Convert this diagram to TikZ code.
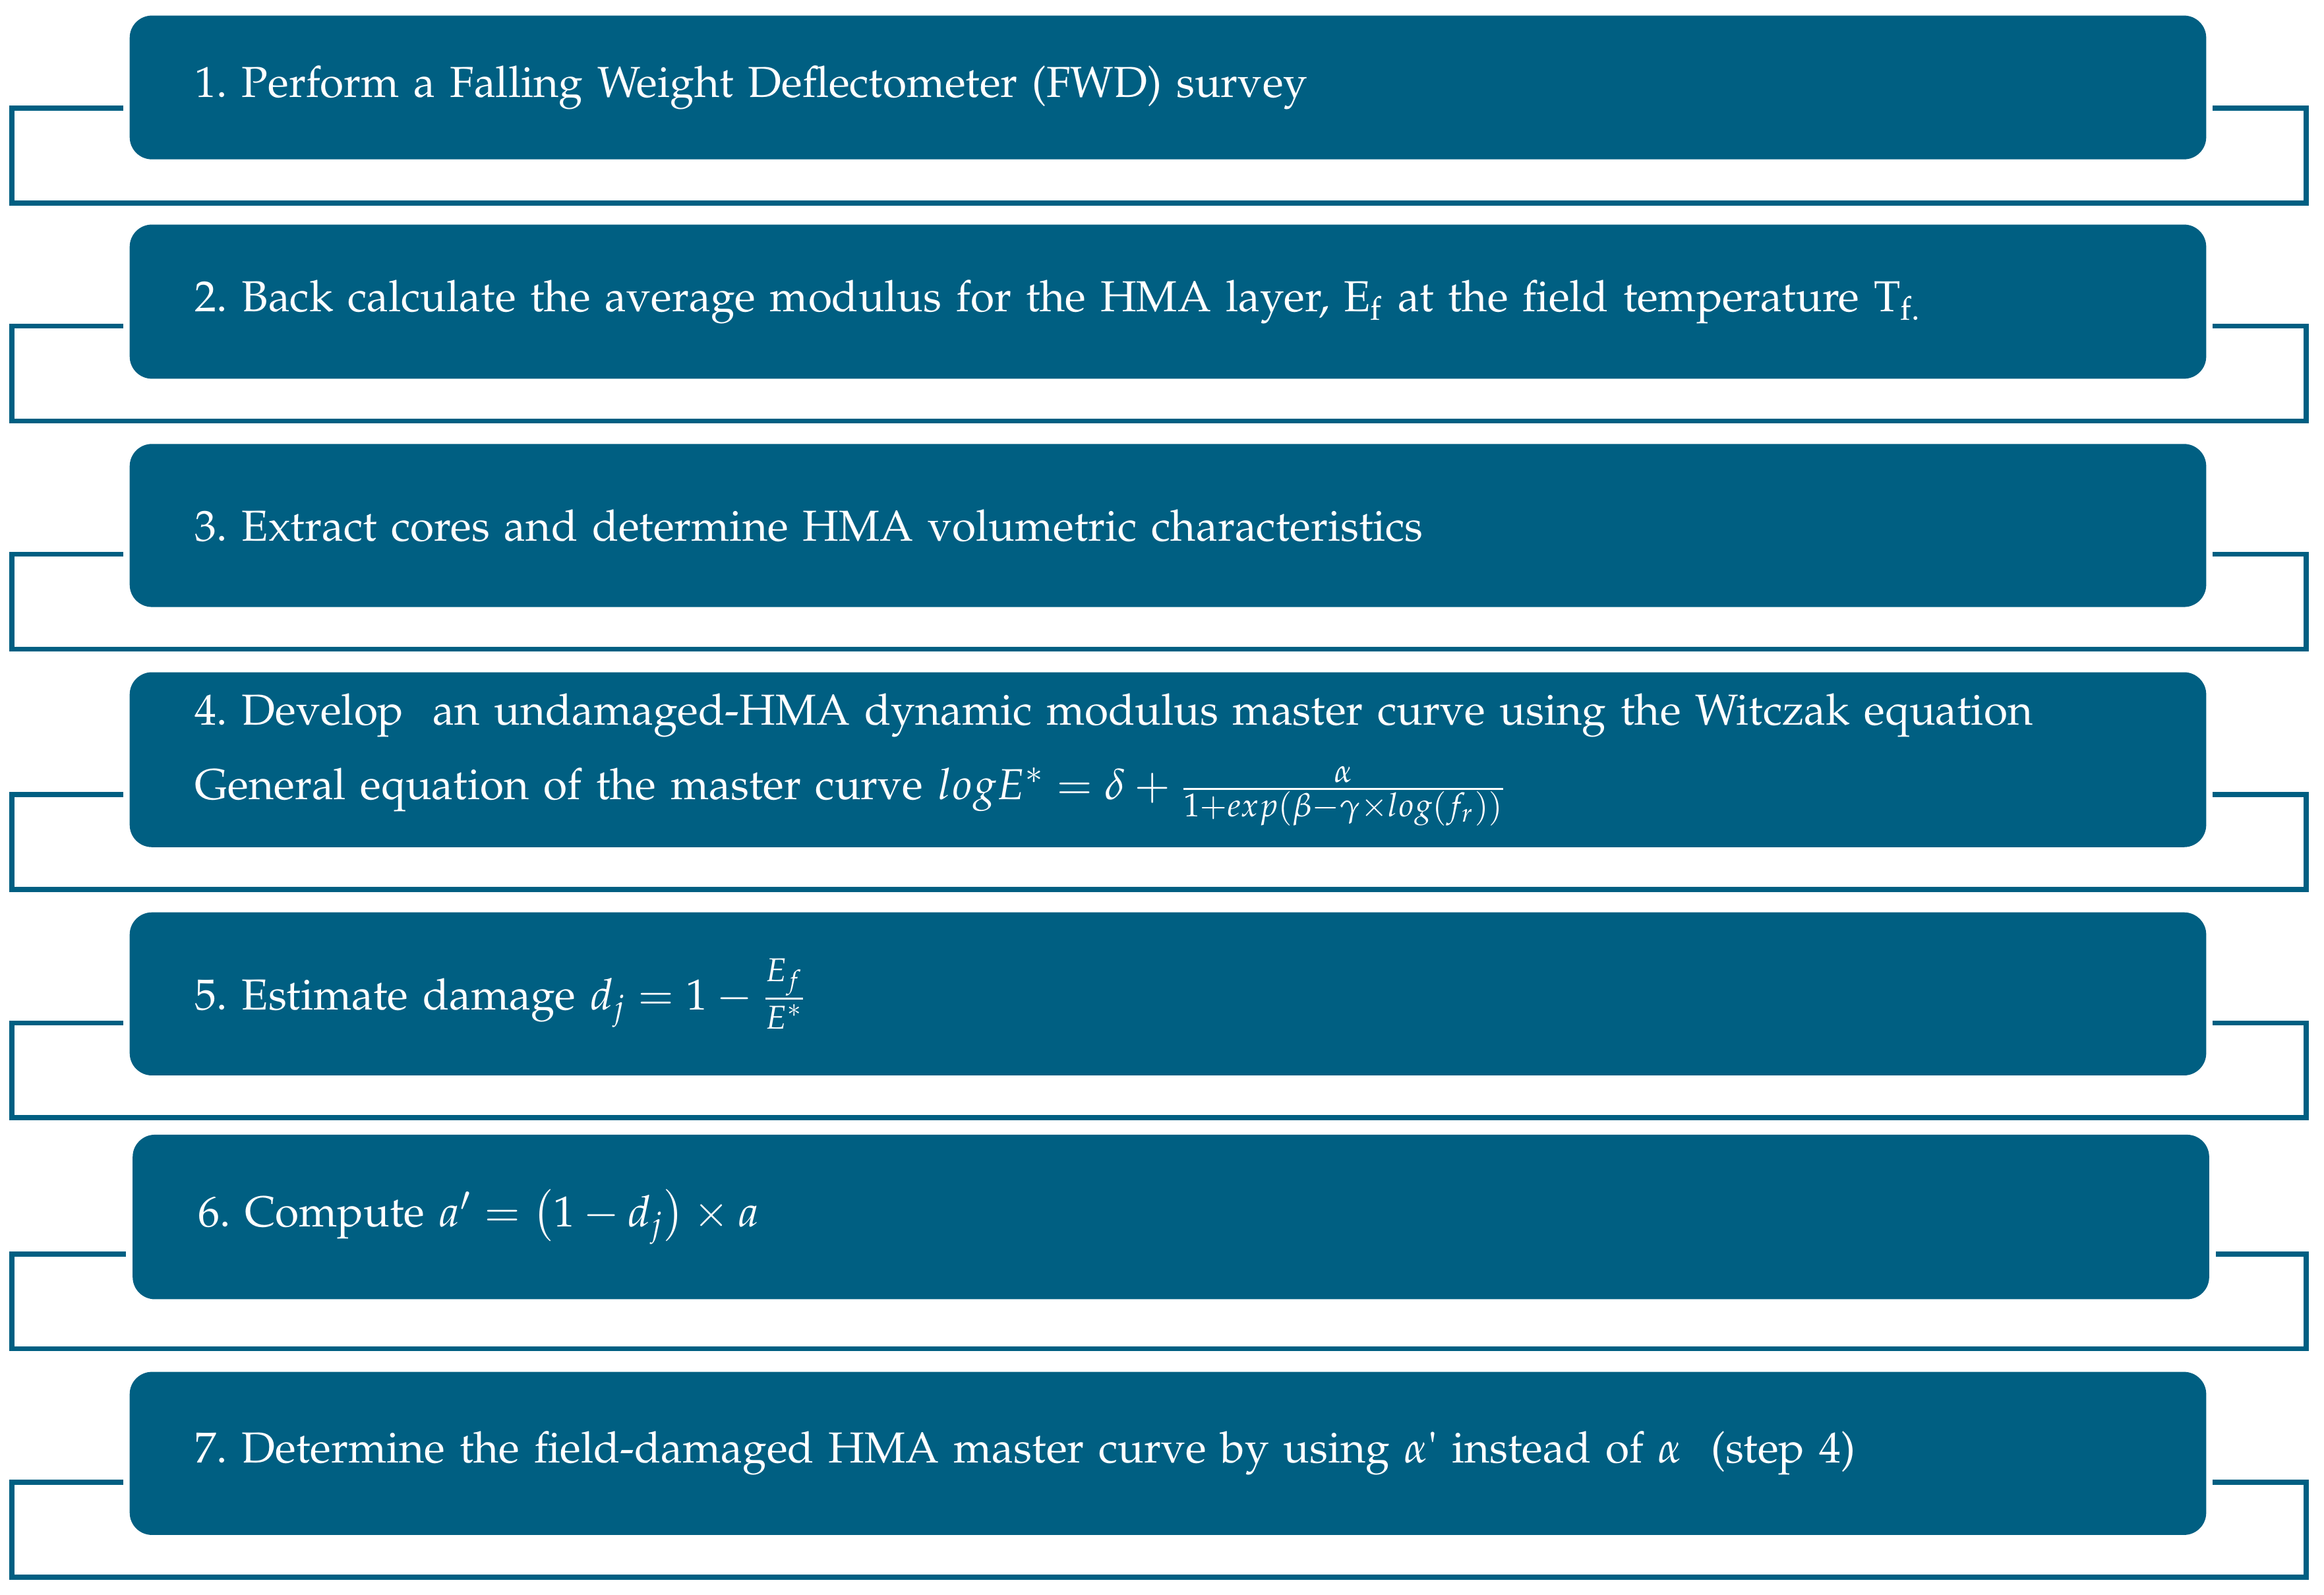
\documentclass[tikz,border=0pt]{standalone}
\usepackage[T1]{fontenc}
\usepackage{mathpazo}
\usetikzlibrary{calc}
\definecolor{boxblue}{RGB}{0,95,130}
\frenchspacing
\begin{document}
\begin{tikzpicture}[x=0.4pt,y=0.4pt,
  stepbox/.style={fill=boxblue, rounded corners=6pt, text=white, anchor=north west,
    inner xsep=17.6pt, inner ysep=0pt, text width=525.2pt, align=left,
    font=\fontsize{11.7}{14.2}\selectfont},
  bracket/.style={draw=boxblue, line width=1.3pt}]
\useasboundingbox (0,0) rectangle (1568,1076);
\coordinate (L) at (8,0);
\coordinate (R) at (1556,0);

\node[stepbox, minimum height=38.8pt] (b1) at (87,1066)
  {1. Perform a Falling Weight Deflectometer (FWD) survey};
\node[stepbox, minimum height=41.6pt] (b2) at (87,925)
  {2. Back calculate the average modulus for the HMA layer, E\textsubscript{f} at the field temperature T\textsubscript{f.}};
\node[stepbox, minimum height=44pt] (b3) at (87,777)
  {3. Extract cores and determine HMA volumetric characteristics};
\node[stepbox, minimum height=47.2pt] (b4) at (87,623)
  {4. Develop\ \ an undamaged-HMA dynamic modulus master curve using the Witczak equation\\[6pt]
   General equation of the master curve $logE^{*} = \delta + \frac{\alpha}{1+exp\left(\beta-\gamma\times log\left(f_{r}\right)\right)}$};
\node[stepbox, minimum height=44pt] (b5) at (87,461)
  {5. Estimate damage $d_{j} = 1 - \frac{\raisebox{1.2pt}{$\scriptstyle E_{f}$}}{\raisebox{-1.2pt}{$\scriptstyle E^{*}$}}$};
\node[stepbox, minimum height=44.4pt] (b6) at (89,311)
  {6. Compute $a' = \left(1 - d_{j}\right) \times a$};
\node[stepbox, minimum height=44pt] (b7) at (87,151)
  {7. Determine the field-damaged HMA master curve by using $\alpha$\textquotesingle{} instead of $\alpha$\ \ (step 4)};

\foreach \b/\s in {b1/35,b2/36,b3/36,b4/36,b5/36,b6/31,b7/36}{
  \path ($(\b.south west)+(-4,\s)$) coordinate (s1)
        ($(\b.south east)+(4,\s)$) coordinate (s2)
        ($(\b.south west)+(0,\s-64)$) coordinate (bt);
  \draw[bracket] (s1) -- (L |- s1) -- (L |- bt) -- (R |- bt) -- (R |- s2) -- (s2);
}
\end{tikzpicture}
\end{document}
